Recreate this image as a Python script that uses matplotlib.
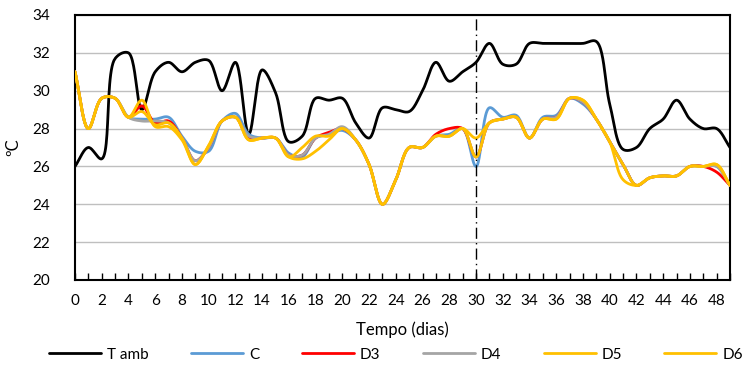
import numpy as np
import matplotlib
matplotlib.use("Agg")
import matplotlib.pyplot as plt
from matplotlib.ticker import MultipleLocator

plt.rcParams['font.family'] = ['Lato', 'DejaVu Sans']

days = list(range(50))

t_amb = [26.0, 27.0, 26.4, 31.7, 32.0, 29.0, 31.0, 31.5, 31.0, 31.5,
         31.6, 30.0, 31.5, 27.7, 31.1, 29.9, 27.3, 27.6, 29.6, 29.5,
         29.6, 28.3, 27.5, 29.1, 29.0, 28.9, 30.0, 31.5, 30.5, 31.0,
         31.5, 32.5, 31.4, 31.4, 32.5, 32.5, 32.5, 32.5, 32.5, 32.6,
         29.3, 26.9, 27.0, 28.0, 28.5, 29.5, 28.5, 28.0, 28.0, 27.0]

c = [31.0, 28.0, 29.6, 29.6, 28.6, 28.5, 28.5, 28.6, 27.6, 26.8,
     26.8, 28.4, 28.8, 27.7, 27.5, 27.5, 26.7, 26.5, 27.5, 27.7,
     27.9, 27.4, 26.1, 24.0, 25.3, 27.0, 27.0, 27.6, 27.7, 28.0,
     26.0, 29.1, 28.6, 28.7, 27.5, 28.6, 28.7, 29.6, 29.3, 28.5,
     27.3, 26.1, 25.0, 25.4, 25.5, 25.5, 26.0, 26.0, 26.0, 25.0]

d3 = [31.0, 28.0, 29.6, 29.6, 28.6, 29.2, 28.3, 28.4, 27.5, 26.3,
      27.0, 28.4, 28.6, 27.5, 27.5, 27.5, 26.6, 26.6, 27.5, 27.8,
      28.0, 27.4, 26.1, 24.0, 25.3, 27.0, 27.0, 27.7, 28.0, 28.0,
      26.5, 28.3, 28.5, 28.6, 27.5, 28.5, 28.6, 29.6, 29.4, 28.5,
      27.3, 26.1, 25.0, 25.4, 25.5, 25.5, 26.0, 26.0, 25.7, 25.0]

d4 = [31.0, 28.0, 29.6, 29.6, 28.6, 28.4, 28.4, 28.3, 27.5, 26.3,
      27.0, 28.4, 28.6, 27.6, 27.5, 27.5, 26.6, 26.6, 27.5, 27.7,
      28.1, 27.4, 26.1, 24.0, 25.3, 27.0, 27.0, 27.6, 27.6, 28.0,
      26.5, 28.3, 28.5, 28.6, 27.5, 28.5, 28.6, 29.6, 29.4, 28.5,
      27.3, 26.1, 25.0, 25.4, 25.5, 25.5, 26.0, 26.0, 26.0, 25.0]

d5 = [31.0, 28.0, 29.6, 29.6, 28.6, 29.5, 28.1, 28.1, 27.4, 26.1,
      27.1, 28.4, 28.6, 27.4, 27.5, 27.5, 26.5, 26.4, 26.8, 27.4,
      28.0, 27.4, 26.1, 24.0, 25.3, 27.0, 27.0, 27.6, 27.6, 28.0,
      26.5, 28.3, 28.5, 28.6, 27.5, 28.5, 28.5, 29.6, 29.5, 28.5,
      27.3, 25.3, 25.0, 25.4, 25.5, 25.5, 26.0, 26.0, 26.1, 25.0]

d6 = [31.0, 28.0, 29.6, 29.6, 28.6, 28.9, 28.2, 28.3, 27.5, 26.1,
      27.1, 28.4, 28.6, 27.4, 27.5, 27.5, 26.5, 27.0, 27.6, 27.6,
      28.0, 27.4, 26.1, 24.0, 25.3, 27.0, 27.0, 27.6, 27.6, 28.0,
      27.5, 28.3, 28.5, 28.6, 27.5, 28.5, 28.5, 29.6, 29.5, 28.5,
      27.3, 26.1, 25.0, 25.4, 25.5, 25.5, 26.0, 26.0, 26.1, 25.0]

labels = ['T amb', 'C', 'D3', 'D4', 'D5', 'D6']
colors = ['#000000', '#5B9BD5', '#FF0000', '#A5A5A5', '#FFC000', '#FFC000']
x_ticks = list(range(0, 49, 2))
y_ticks = list(range(20, 35, 2))
event_day = 30

# pixel scale of the axes, used so the smoothing behaves like in screen space
SX, SY = 13.37, 18.93


def smooth(x, y, n=24, alpha=0.5):
    P = np.column_stack([np.asarray(x, float) * SX, np.asarray(y, float) * SY])
    P = np.vstack([2 * P[0] - P[1], P, 2 * P[-1] - P[-2]])
    out = []
    for i in range(1, len(P) - 2):
        p0, p1, p2, p3 = P[i - 1], P[i], P[i + 1], P[i + 2]
        t0 = 0.0
        t1 = t0 + max(np.linalg.norm(p1 - p0), 1e-6) ** alpha
        t2 = t1 + max(np.linalg.norm(p2 - p1), 1e-6) ** alpha
        t3 = t2 + max(np.linalg.norm(p3 - p2), 1e-6) ** alpha
        t = np.linspace(t1, t2, n, endpoint=False)[:, None]
        a1 = (t1 - t) / (t1 - t0) * p0 + (t - t0) / (t1 - t0) * p1
        a2 = (t2 - t) / (t2 - t1) * p1 + (t - t1) / (t2 - t1) * p2
        a3 = (t3 - t) / (t3 - t2) * p2 + (t - t2) / (t3 - t2) * p3
        b1 = (t2 - t) / (t2 - t0) * a1 + (t - t0) / (t2 - t0) * a2
        b2 = (t3 - t) / (t3 - t1) * a2 + (t - t1) / (t3 - t1) * a3
        cpt = (t2 - t) / (t2 - t1) * b1 + (t - t1) / (t2 - t1) * b2
        out.append(cpt)
    out.append(P[-2][None, :])
    pts = np.vstack(out)
    return pts[:, 0] / SX, pts[:, 1] / SY


fig = plt.figure(figsize=(7.55, 3.65), dpi=100)
ax = fig.add_axes([75 / 755, 85 / 365, 655 / 755, 265 / 365])

series = [t_amb, c, d3, d4, d5, d6]
for vals, lab, col in zip(series, labels, colors):
    sx, sy = smooth(days, vals)
    ax.plot(sx, sy, color=col, lw=2.0, label=lab, solid_capstyle='round', zorder=3)

ax.axvline(event_day, color='black', lw=1.0, linestyle=(0, (8, 3, 1, 3)), zorder=4)

ax.set_xlim(0, 49)
ax.set_ylim(20, 34)
ax.set_xticks(x_ticks)
ax.xaxis.set_minor_locator(MultipleLocator(1))
ax.set_yticks(y_ticks)
ax.grid(axis='y', color='#BFBFBF', lw=1.0, zorder=0)
ax.set_axisbelow(True)
for s in ax.spines.values():
    s.set_color('black')
    s.set_linewidth(1.5)
ax.tick_params(axis='x', which='both', direction='in', length=5, width=1, pad=10, labelsize=11)
ax.tick_params(axis='y', which='both', length=0, pad=18, labelsize=11)
ax.set_xlabel('Tempo (dias)', fontsize=12, labelpad=10)
ax.set_ylabel('ºC', fontsize=12, labelpad=8)

fig.legend(loc='center', bbox_to_anchor=(0.5247, 0.028), ncol=6, frameon=False,
           fontsize=11, handlelength=3.4, columnspacing=2.77, handletextpad=0.4)

fig.savefig('out.png', dpi=100)
